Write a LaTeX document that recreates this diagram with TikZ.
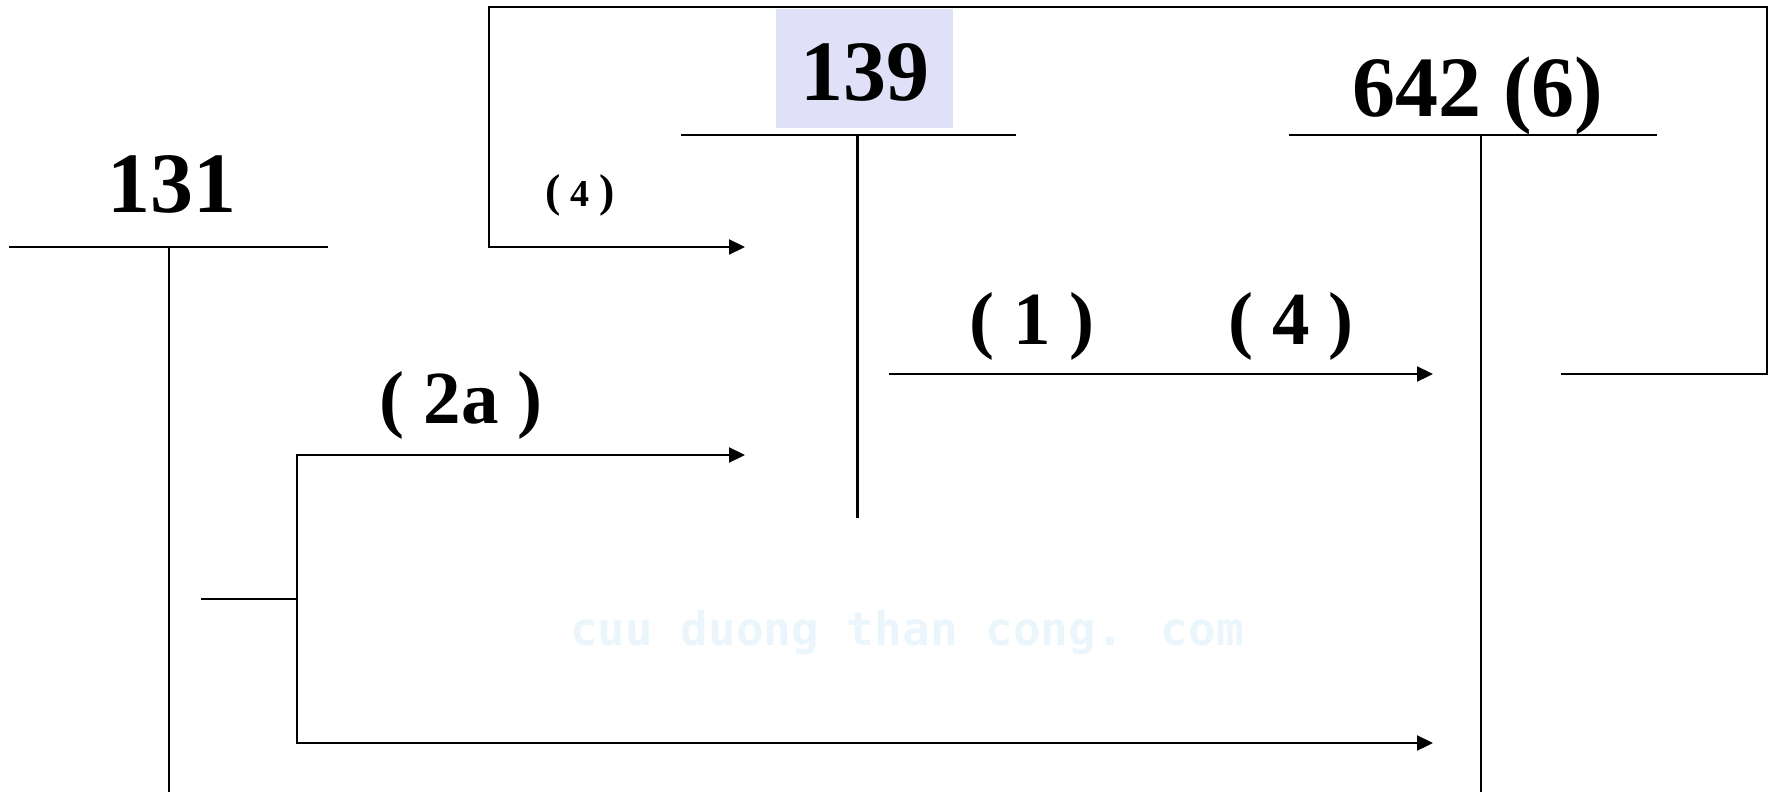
\documentclass[tikz,border=0pt]{standalone}
\usepackage{fontspec}
\setmainfont{Liberation Serif}
\newfontfamily\wmfont{DejaVu Sans Mono}
\usetikzlibrary{arrows.meta}
\definecolor{lav}{RGB}{224,224,248}
\definecolor{wm}{RGB}{234,246,252}
\begin{document}
\begin{tikzpicture}[x=1pt,y=-1pt,
  ln/.style={line width=2.2pt},
  arr/.style={ln,-{Triangle[length=16pt,width=15pt]}},
  title/.style={font=\fontsize{86}{90}\selectfont\bfseries, inner sep=0pt, anchor=base},
  lbl/.style={font=\fontsize{75}{77}\selectfont\bfseries, inner sep=0pt, anchor=base},
]
\useasboundingbox (0,0) rectangle (1769,792);
% watermark
\node[font=\wmfont\bfseries\fontsize{46}{48}\selectfont, text=wm, inner sep=0pt, anchor=base] (wmk) at (907,645) {cuu duong than cong. com};
% 139 background
\node[fill=lav, minimum width=177pt, minimum height=119pt, inner sep=0pt] (bg139) at (864.5,68.5) {};
% titles
\node[title] (t131) at (172,212) {131};
\node[title] (t139) at (865,100) {139};
\node[title] (t642) at (1478,116) {642 (6)};
% T-account coordinates
\coordinate (a131l) at (9,247);   \coordinate (a131r) at (328,247);
\coordinate (a131t) at (169,247); \coordinate (a131b) at (169,792);
\coordinate (a139l) at (681,135); \coordinate (a139r) at (1016,135);
\coordinate (a139t) at (857.5,135); \coordinate (a139b) at (857.5,518);
\coordinate (a642l) at (1288.5,135); \coordinate (a642r) at (1656.5,135);
\coordinate (a642t) at (1481,135); \coordinate (a642b) at (1481,792);
\draw[ln] (a131l) -- (a131r); \draw[ln] (a131t) -- (a131b);
\draw[ln] (a139l) -- (a139r); \draw[ln] (a139t) -- (a139b);
\draw[ln] (a642l) -- (a642r); \draw[ln] (a642t) -- (a642b);
% frame loop (4)
\coordinate (f1) at (1561,374);
\coordinate (f2) at (1767,374);
\coordinate (f3) at (1767,7);
\coordinate (f4) at (489,7);
\coordinate (f5) at (489,247);
\coordinate (f6) at (745,247);
\draw[arr] (f1) -- (f2) -- (f3) -- (f4) -- (f5) -- (f6);
\node[inner sep=0pt, anchor=base, font=\bfseries] (l4s) at (580,206)
  {\fontsize{46}{50}\selectfont(\hspace{10pt}{\fontsize{38}{40}\selectfont 4}\hspace{10pt})};
% (1) (4) arrow
\coordinate (m1) at (889,374);
\coordinate (m2) at (1433,374);
\draw[arr] (m1) -- (m2);
\node[lbl] (l1) at (1032,344) {( 1 )};
\node[lbl] (l4) at (1291,344) {( 4 )};
% (2a) branch
\coordinate (s0) at (201,599);
\coordinate (s1) at (297,599);
\coordinate (b1) at (745,455);
\coordinate (b2) at (1433,743);
\draw[ln] (s0) -- (s1);
\draw[arr] (s1) |- (b1);
\draw[arr] (s1) |- (b2);
\node[lbl] (l2a) at (461,423) {( 2a )};
\end{tikzpicture}
\end{document}
